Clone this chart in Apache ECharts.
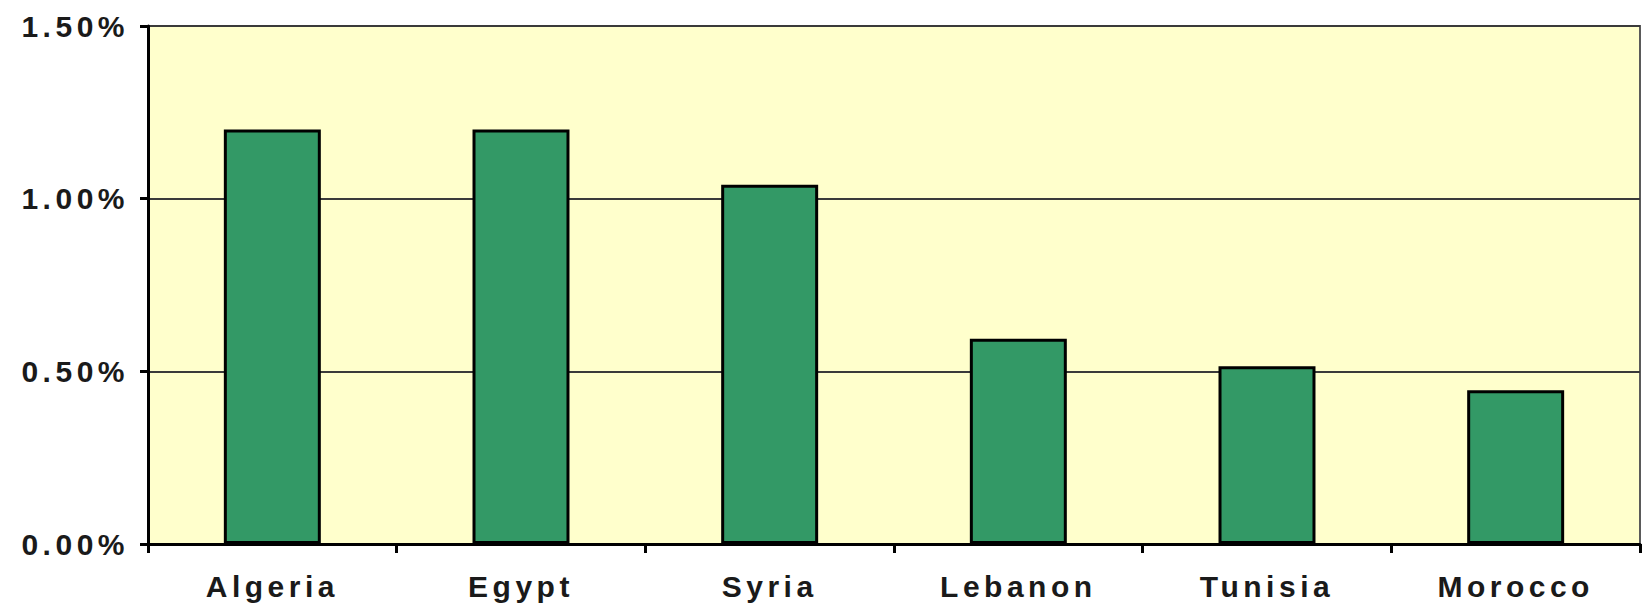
<!DOCTYPE html>
<html>
<head>
<meta charset="utf-8">
<script src="https://cdn.jsdelivr.net/npm/echarts@6/dist/echarts.min.js"></script>
<style>
  html, body { margin: 0; padding: 0; background: #ffffff; }
  #chart { width: 1644px; height: 606px; }
  #chart text { letter-spacing: 4.5px; }
</style>
</head>
<body>
<div id="chart"></div>
<script>
const categories = ['Algeria', 'Egypt', 'Syria', 'Lebanon', 'Tunisia', 'Morocco'];
const values = [1.20, 1.20, 1.04, 0.594, 0.515, 0.445];
const yTickValues = [0, 0.5, 1.0, 1.5];
const yTickLabels = ['0.00%', '0.50%', '1.00%', '1.50%'];

const chart = echarts.init(document.getElementById('chart'), null, { renderer: 'svg' });
const labelFont = {
  fontFamily: '"Liberation Sans", Arial, sans-serif',
  fontWeight: 'bold',
  fontSize: 30,
  color: '#1a1a1a'
};
chart.setOption({
  animation: false,
  backgroundColor: '#ffffff',
  grid: {
    left: 148, right: 4, top: 26, bottom: 62,
    show: true,
    backgroundColor: '#FFFFCC',
    borderColor: '#5a5a5a',
    borderWidth: 2
  },
  xAxis: {
    type: 'category',
    data: categories,
    boundaryGap: true,
    axisLine: { show: true, lineStyle: { color: '#000', width: 3 } },
    axisTick: { show: true, alignWithLabel: false, length: 9, lineStyle: { color: '#000', width: 3 } },
    axisLabel: Object.assign({ margin: 27 }, labelFont),
    splitLine: { show: false }
  },
  yAxis: {
    type: 'value',
    min: 0, max: 1.5, interval: 0.5,
    axisLine: { show: true, lineStyle: { color: '#000', width: 3 } },
    axisTick: { show: true, length: 8, lineStyle: { color: '#000', width: 3 } },
    axisLabel: Object.assign({
      margin: 19,
      formatter: function (v) {
        const i = yTickValues.findIndex(t => Math.abs(t - v) < 1e-9);
        return i >= 0 ? yTickLabels[i] : '';
      }
    }, labelFont),
    splitLine: { show: true, lineStyle: { color: '#3a3a3a', width: 2 } }
  },
  series: [{
    type: 'bar',
    data: values,
    barWidth: '39%',
    itemStyle: { color: '#339966', borderColor: '#000', borderWidth: 3 }
  }]
});
</script>
</body>
</html>
